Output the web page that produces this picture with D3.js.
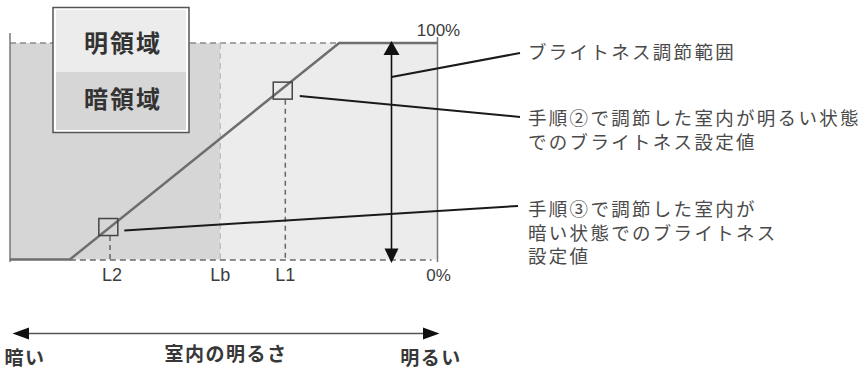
<!DOCTYPE html>
<html>
<head>
<meta charset="utf-8">
<script src="https://cdn.jsdelivr.net/npm/d3@7"></script>
<style>
  html, body { margin: 0; padding: 0; background: #fff; }
  svg { display: block; font-family: "Noto Sans CJK JP", "Noto Sans", sans-serif; }
</style>
</head>
<body>
<div id="chart"></div>
<script>
// brightness curve: room brightness (0-100) -> screen brightness (%)
const curveLux = [0, 14, 77, 100];
const curveBright = [0, 0, 100, 100];

const tickNames = ["L2", "Lb", "L1"];
const tickLux = [23.4, 49.2, 64.4];

// adjusted set points (step 3 dark, step 2 bright)
const pointNames = ["L2", "L1"];
const pointLux = [23, 63.8];
const pointBright = [15, 78];

const scaleLabels = ["100%", "0%"];
const legendNames = ["明領域", "暗領域"];

const notes = [
  ["ブライトネス調節範囲"],
  ["手順②で調節した室内が明るい状態", "でのブライトネス設定値"],
  ["手順③で調節した室内が", "暗い状態でのブライトネス", "設定値"]
];
const axisWords = ["暗い", "室内の明るさ", "明るい"];

const width = 865, height = 370;

const svg = d3.select("#chart").append("svg")
    .attr("width", width)
    .attr("height", height);

const x = d3.scaleLinear().domain([0, 100]).range([10, 437.5]);
const y = d3.scaleLinear().domain([0, 100]).range([259.5, 43]);

const darkFill = "#d6d6d6", lightFill = "#ececec";
const lbX = x(tickLux[1]);

// regions
svg.append("rect")
    .attr("x", x(0)).attr("y", y(100))
    .attr("width", lbX - x(0)).attr("height", y(0) - y(100))
    .attr("fill", darkFill);
svg.append("rect")
    .attr("x", lbX).attr("y", y(100))
    .attr("width", x(100) - lbX).attr("height", y(0) - y(100))
    .attr("fill", lightFill);

// dashed guides top / bottom
svg.append("line")
    .attr("x1", x(0)).attr("x2", x(curveLux[2])).attr("y1", y(100)).attr("y2", y(100))
    .attr("stroke", "#8a8a8a").attr("stroke-width", 1.5).attr("stroke-dasharray", "6,4");
svg.append("line")
    .attr("x1", x(curveLux[1])).attr("x2", x(100) - 6).attr("y1", y(0) + 0.5).attr("y2", y(0) + 0.5)
    .attr("stroke", "#6a6a6a").attr("stroke-width", 1.5).attr("stroke-dasharray", "6,4");

// axes verticals
svg.append("line")
    .attr("x1", x(0)).attr("x2", x(0)).attr("y1", 33).attr("y2", 262)
    .attr("stroke", "#777").attr("stroke-width", 1.5);
svg.append("line")
    .attr("x1", x(100)).attr("x2", x(100)).attr("y1", 37).attr("y2", 262)
    .attr("stroke", "#777").attr("stroke-width", 1.5);

// Lb guide
svg.append("line")
    .attr("x1", lbX).attr("x2", lbX).attr("y1", y(100)).attr("y2", y(0))
    .attr("stroke", "#bdbdbd").attr("stroke-width", 1.3).attr("stroke-dasharray", "6,4");

// set point guides
pointLux.forEach((v, i) => {
    const tx = x(tickLux[tickNames.indexOf(pointNames[i])]);
    svg.append("line")
        .attr("x1", tx).attr("x2", tx)
        .attr("y1", y(pointBright[i]) + 9).attr("y2", y(0))
        .attr("stroke", "#666").attr("stroke-width", 1.5).attr("stroke-dasharray", "5,4");
});

// curve
const line = d3.line().x(d => x(d[0])).y(d => y(d[1]));
svg.append("path")
    .datum(d3.zip(curveLux, curveBright))
    .attr("d", line)
    .attr("fill", "none")
    .attr("stroke", "#6e6e6e")
    .attr("stroke-width", 2.5);

// set point squares
svg.selectAll("rect.pt")
    .data(d3.zip(pointLux, pointBright))
    .join("rect")
    .attr("class", "pt")
    .attr("x", d => x(d[0]) - 9.5)
    .attr("y", d => y(d[1]) - 8.5)
    .attr("width", 19).attr("height", 17)
    .attr("fill", "none")
    .attr("stroke", "#444")
    .attr("stroke-width", 1.5);

// brightness range double arrow
const ax = 391.5;
svg.append("line")
    .attr("x1", ax).attr("x2", ax).attr("y1", y(100) + 10).attr("y2", y(0) - 10)
    .attr("stroke", "#111").attr("stroke-width", 1.6);
svg.append("path")
    .attr("d", `M${ax},${y(100) - 2} L${ax - 8},${y(100) + 12} L${ax + 8},${y(100) + 12} Z`)
    .attr("fill", "#111");
svg.append("path")
    .attr("d", `M${ax},${y(0) + 3.5} L${ax - 7},${y(0) - 11} L${ax + 7},${y(0) - 11} Z`)
    .attr("fill", "#111");

// tick labels
svg.selectAll("text.tick")
    .data(tickNames)
    .join("text")
    .attr("class", "tick")
    .attr("x", (d, i) => x(tickLux[i]) + (i === 0 ? 2 : 0))
    .attr("y", 275)
    .attr("dy", "0.35em")
    .attr("text-anchor", "middle")
    .attr("font-family", "'Liberation Sans', Arial, sans-serif")
    .attr("font-size", 18)
    .attr("fill", "#3c3c3c")
    .text(d => d);

svg.selectAll("text.pct")
    .data(scaleLabels)
    .join("text")
    .attr("class", "pct")
    .attr("x", x(100) + 1)
    .attr("y", (d, i) => i === 0 ? 30 : 275)
    .attr("dy", "0.35em")
    .attr("text-anchor", "middle")
    .attr("font-family", "'Liberation Sans', Arial, sans-serif")
    .attr("font-size", 17)
    .attr("fill", "#3c3c3c")
    .text(d => d);

// legend box
const lg = svg.append("g");
lg.append("rect")
    .attr("x", 53).attr("y", 7.5).attr("width", 136).attr("height", 125)
    .attr("fill", "#fff").attr("stroke", "#555").attr("stroke-width", 1.5);
lg.append("rect")
    .attr("x", 56).attr("y", 10).attr("width", 130).attr("height", 62)
    .attr("fill", lightFill);
lg.append("rect")
    .attr("x", 56).attr("y", 72).attr("width", 130).attr("height", 58)
    .attr("fill", darkFill);
lg.selectAll("text")
    .data(legendNames)
    .join("text")
    .attr("x", 123)
    .attr("y", (d, i) => i === 0 ? 44 : 100)
    .attr("dy", "0.35em")
    .attr("text-anchor", "middle")
    .attr("font-size", 24)
    .attr("font-weight", "bold")
    .attr("letter-spacing", 2)
    .attr("fill", "#333")
    .text(d => d);

// leader lines
const leaders = [
    [[ax, 77], [520, 53]],
    [[x(pointLux[1]) + 17, 96], [520, 117]],
    [[x(pointLux[0]) + 16, 230.5], [518, 206]]
];
svg.selectAll("line.leader")
    .data(leaders)
    .join("line")
    .attr("class", "leader")
    .attr("x1", d => d[0][0]).attr("y1", d => d[0][1])
    .attr("x2", d => d[1][0]).attr("y2", d => d[1][1])
    .attr("stroke", "#1a1a1a")
    .attr("stroke-width", 2);

// notes
const noteTop = [53, 119, 210];
notes.forEach((lines, i) => {
    const t = svg.append("text")
        .attr("x", 528)
        .attr("y", noteTop[i])
        .attr("font-size", 18.5)
        .attr("letter-spacing", 2.3)
        .attr("fill", "#4a4a4a");
    lines.forEach((s, j) => {
        t.append("tspan")
            .attr("x", 528)
            .attr("y", noteTop[i] + j * 23.5)
            .attr("dy", "0.35em")
            .text(s);
    });
});

// bottom brightness axis
const by = 333.5;
svg.append("line")
    .attr("x1", 26).attr("x2", 425).attr("y1", by).attr("y2", by)
    .attr("stroke", "#555").attr("stroke-width", 1.5);
svg.append("path")
    .attr("d", `M12.5,${by} L29,${by - 6} L29,${by + 6} Z`)
    .attr("fill", "#111");
svg.append("path")
    .attr("d", `M439.5,${by} L423,${by - 6} L423,${by + 6} Z`)
    .attr("fill", "#111");

svg.selectAll("text.word")
    .data(axisWords)
    .join("text")
    .attr("class", "word")
    .attr("x", (d, i) => [25, 226, 431][i])
    .attr("y", (d, i) => i === 1 ? 354 : 358)
    .attr("dy", "0.35em")
    .attr("text-anchor", "middle")
    .attr("font-size", 19)
    .attr("font-weight", "bold")
    .attr("letter-spacing", 1.5)
    .attr("fill", "#383838")
    .text(d => d);
</script>
</body>
</html>
